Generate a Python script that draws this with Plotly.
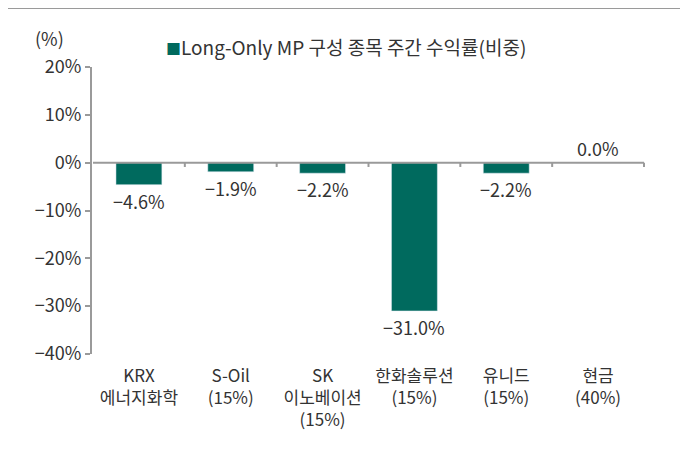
import plotly.graph_objects as go

categories = ["KRX<br>에너지화학", "S-Oil<br>(15%)", "SK<br>이노베이션<br>(15%)",
              "한화솔루션<br>(15%)", "유니드<br>(15%)", "현금<br>(40%)"]
values = [-4.6, -1.9, -2.2, -31.0, -2.2, 0.0]
series_name = "Long-Only MP 구성 종목 주간 수익률(비중)"
y_ticks = [20, 10, 0, -10, -20, -30, -40]

BAR = "#006A5E"
AXIS = "#9A9A9A"
TXT = "#333333"
FONT = "Noto Sans CJK KR"

def fmt(v, dec=0):
    s = f"{abs(v):.{dec}f}%"
    return ("−" + s) if v < 0 else s

fig = go.Figure()
fig.add_trace(go.Bar(x=categories, y=values, marker_color=BAR, name=series_name,
                     showlegend=False, hoverinfo="skip"))

for c, v in zip(categories, values):
    fig.add_annotation(x=c, y=v, text=fmt(v, 1), showarrow=False,
                       yanchor="top" if v < 0 else "bottom",
                       yshift=-1 if v < 0 else 0,
                       font=dict(size=18, color=TXT, family=FONT))

# tick marks on the zero line at category boundaries
for i in range(1, len(categories) + 1):
    fig.add_shape(type="line", xref="x", yref="y", x0=i - 0.5, x1=i - 0.5,
                  y0=0, y1=-0.9, line=dict(color=AXIS, width=2))
fig.add_shape(type="line", xref="x", yref="y", x0=-0.5, x1=len(categories) - 0.5,
              y0=0, y1=0, line=dict(color=AXIS, width=2))
# top border line
fig.add_shape(type="line", xref="paper", yref="paper", x0=-84/553, x1=589/553,
              y0=1 + 59/287, y1=1 + 59/287, line=dict(color=AXIS, width=2))

fig.add_annotation(xref="paper", yref="paper", x=-59/553, y=1 + 29/287, text="(%)",
                   showarrow=False, xanchor="left", yanchor="middle",
                   font=dict(size=18, color=TXT, family=FONT))
fig.add_annotation(xref="paper", yref="paper", x=72/553, y=1 + 20/287,
                   text=f"<span style='color:{BAR};font-size:15px'>■</span>{series_name}",
                   showarrow=False, xanchor="left", yanchor="middle",
                   font=dict(size=19, color=TXT, family=FONT))

fig.update_layout(
    width=688, height=459,
    margin=dict(l=84, r=51, t=59, b=113),
    paper_bgcolor="white", plot_bgcolor="white",
    bargap=0.5,
    font=dict(family=FONT, size=16, color=TXT),
    xaxis=dict(showline=False, ticks="", showgrid=False, zeroline=False,
               ticklabelstandoff=10,
               tickfont=dict(size=17, color=TXT, family=FONT)),
    yaxis=dict(range=[-40, 20], tickvals=y_ticks, ticktext=[fmt(t) for t in y_ticks],
               showline=True, linecolor=AXIS, linewidth=2, ticks="outside",
               ticklen=5, tickcolor=AXIS, tickwidth=2, showgrid=False,
               zeroline=False, tickfont=dict(size=18, color=TXT, family=FONT)),
)

fig.write_html("out.html")
